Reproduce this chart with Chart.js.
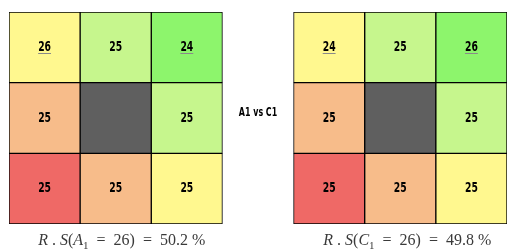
<!DOCTYPE html>
<html>
<head>
<meta charset="utf-8">
<script src="https://cdn.jsdelivr.net/npm/chart.js@4"></script>
<style>
html,body{margin:0;padding:0;background:#fff;}
canvas{display:block;}
</style>
</head>
<body>
<canvas id="c" width="522" height="252"></canvas>
<script>
// Grid values, rows top to bottom
const leftValues = [[26, 25, 24], [25, null, 25], [25, 25, 25]];
const rightValues = [[24, 25, 26], [25, null, 25], [25, 25, 25]];
const underlined = [[true, false, true], [false, false, false], [false, false, false]];
const cellColors = [
  ['#FFF88F', '#C6F68D', '#8DF56C'],
  ['#F7BC8A', '#5F5F5F', '#C6F68D'],
  ['#EF6966', '#F7BC8A', '#FFF88F']
];
const centerLabel = 'A1 vs C1';
const leftFormula = {letter: 'A', value: '26', pct: '50.2'};
const rightFormula = {letter: 'C', value: '26', pct: '49.8'};

const columns = ['L1', 'L2', 'L3', 'gap', 'R1', 'R2', 'R3'];

const datasets = [];
for (let r = 2; r >= 0; r--) {
  const data = [], bg = [];
  for (let c = 0; c < 7; c++) {
    if (c === 3) { data.push(null); bg.push('rgba(0,0,0,0)'); continue; }
    data.push(1);
    bg.push(cellColors[r][c < 3 ? c : c - 4]);
  }
  datasets.push({
    data, backgroundColor: bg, borderColor: '#000', borderWidth: 1,
    borderSkipped: false, barPercentage: 1, categoryPercentage: 1, row: r
  });
}

const NUM_FONT = '"DejaVu Sans", sans-serif';

function condensedText(ctx, text, x, y, size, sx) {
  ctx.save();
  ctx.font = `bold ${size}px ${NUM_FONT}`;
  ctx.translate(x, y);
  ctx.scale(sx, 1);
  ctx.textAlign = 'center';
  ctx.textBaseline = 'middle';
  ctx.fillText(text, 0, 0);
  const w = ctx.measureText(text).width * sx;
  ctx.restore();
  return w;
}

function drawFormula(ctx, cx, baseline, f) {
  const size = 16;
  const segs = [
    {t: 'R', font: `italic ${size}px "Liberation Serif"`},
    {t: ' . ', font: `${size}px "Liberation Serif"`},
    {t: 'S', font: `italic ${size}px "Liberation Serif"`},
    {t: '(', font: `${size}px "Liberation Serif"`},
    {t: f.letter, font: `italic ${size}px "Liberation Serif"`},
    {t: '1', font: `${Math.round(size*0.7)}px "Liberation Serif"`, dy: 4},
    {t: '  =  ' + f.value + ')  =  ' + f.pct + ' %', font: `${size}px "Liberation Serif"`}
  ];
  let total = 0;
  segs.forEach(s => { ctx.font = s.font; s.w = ctx.measureText(s.t).width; total += s.w; });
  let x = cx - total / 2;
  ctx.fillStyle = '#3a3a3a';
  ctx.textAlign = 'left';
  ctx.textBaseline = 'alphabetic';
  segs.forEach(s => { ctx.font = s.font; ctx.fillText(s.t, x, baseline + (s.dy || 0)); x += s.w; });
}

const labelPlugin = {
  id: 'labels',
  afterDatasetsDraw(chart) {
    const ctx = chart.ctx;
    ctx.save();
    chart.data.datasets.forEach((ds, di) => {
      const meta = chart.getDatasetMeta(di);
      const r = ds.row;
      meta.data.forEach((el, c) => {
        if (c === 3) return;
        const grid = c < 3 ? leftValues : rightValues;
        const col = c < 3 ? c : c - 4;
        const v = grid[r][col];
        if (v === null || v === undefined) return;
        const cy = (el.y + el.base) / 2;
        ctx.fillStyle = '#000';
        const w = condensedText(ctx, String(v), el.x, cy, 14, 0.66);
        if (underlined[r][col]) {
          ctx.strokeStyle = '#8a8a8a';
          ctx.lineWidth = 1;
          ctx.beginPath();
          ctx.moveTo(el.x - w / 2, Math.round(cy) + 6.5);
          ctx.lineTo(el.x + w / 2, Math.round(cy) + 6.5);
          ctx.stroke();
        }
      });
    });
    const xs = chart.scales.x, ys = chart.scales.y;
    ctx.fillStyle = '#000';
    condensedText(ctx, centerLabel, xs.getPixelForValue(3), ys.getPixelForValue(1.5) - 5, 12, 0.66);
    const base = chart.chartArea.bottom + 21;
    drawFormula(ctx, xs.getPixelForValue(1) + 6, base, leftFormula);
    drawFormula(ctx, xs.getPixelForValue(5) + 7, base, rightFormula);
    ctx.restore();
  }
};

new Chart(document.getElementById('c'), {
  type: 'bar',
  data: {labels: columns, datasets},
  options: {
    responsive: false,
    animation: false,
    layout: {padding: {left: 9, right: 15, top: 12, bottom: 28}},
    plugins: {legend: {display: false}, tooltip: {enabled: false}},
    scales: {
      x: {display: false, stacked: true},
      y: {display: false, stacked: true, min: 0, max: 3}
    }
  },
  plugins: [labelPlugin]
});
</script>
</body>
</html>
